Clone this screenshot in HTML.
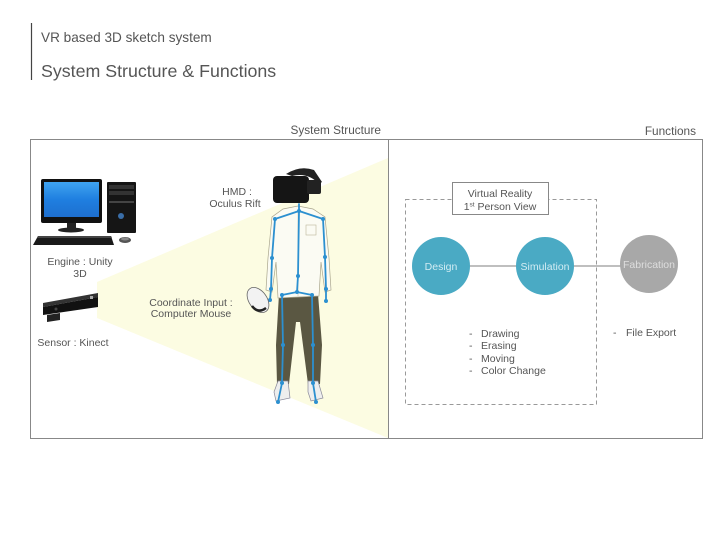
<!DOCTYPE html>
<html><head><meta charset="utf-8"><style>
html,body{margin:0;padding:0;background:#fff;}
svg{display:block;}
text{font-family:"Liberation Sans",sans-serif;fill:#555;}
</style></head><body>
<svg width="720" height="540" viewBox="0 0 720 540" xmlns="http://www.w3.org/2000/svg">
<defs>
<linearGradient id="scr" x1="0" y1="0" x2="0" y2="1">
<stop offset="0" stop-color="#3fa3f0"/><stop offset="0.5" stop-color="#1f7fe0"/><stop offset="1" stop-color="#1e6fcf"/>
</linearGradient>
</defs>
<!-- header -->
<line x1="31.5" y1="23" x2="31.5" y2="80" stroke="#444" stroke-width="1.2"/>
<text x="41" y="42" font-size="13.6" style="fill:#555">VR based 3D sketch system</text>
<text x="41" y="77" font-size="17.8" style="fill:#555">System Structure &amp; Functions</text>

<!-- section labels -->
<text x="381" y="134" font-size="11.8" text-anchor="end">System Structure</text>
<text x="696" y="135" font-size="11.8" text-anchor="end">Functions</text>

<!-- yellow light cone -->
<polygon points="97,282 388,158 388,438 97,318" fill="#fcfce2"/>

<!-- main box -->
<rect x="30.5" y="139.5" width="672" height="299" fill="none" stroke="#888" stroke-width="1"/>
<line x1="388.5" y1="139.5" x2="388.5" y2="438.5" stroke="#888" stroke-width="1"/>

<!-- computer -->
<rect x="41" y="179" width="61" height="44" rx="2" fill="#111"/>
<rect x="44" y="182" width="55" height="35" fill="url(#scr)"/>
<rect x="67" y="223" width="9" height="6" fill="#222"/>
<ellipse cx="71" cy="230" rx="13" ry="2.5" fill="#222"/>
<rect x="107" y="182" width="29" height="51" rx="1" fill="#151515"/>
<rect x="109" y="185" width="25" height="4" fill="#333"/>
<rect x="109" y="191" width="25" height="4" fill="#333"/>
<rect x="109" y="201" width="25" height="2" fill="#444"/>
<circle cx="121" cy="216" r="3" fill="#3a6ea8"/>
<polygon points="38,236 111,236 114,245 33,245" fill="#1a1a1a"/>
<polygon points="38,236 111,236 112,238 37,238" fill="#444"/>
<ellipse cx="125" cy="240" rx="6" ry="3" fill="#555"/>
<ellipse cx="125" cy="239" rx="4" ry="1.5" fill="#888"/>

<text x="80" y="265" font-size="10.5" text-anchor="middle">Engine : Unity</text>
<text x="80" y="277" font-size="10.5" text-anchor="middle">3D</text>

<!-- kinect -->
<polygon points="43,303 98,293 98,297 43,307" fill="#333"/>
<polygon points="43,307 98,297 98,307 43,315" fill="#111"/>
<polygon points="47,315 60,313 60,320 47,322" fill="#222"/>
<circle cx="56" cy="309" r="1.5" fill="#444"/>
<rect x="90" y="296" width="3" height="3" fill="#aaa"/>

<text x="73" y="346" font-size="10.5" text-anchor="middle">Sensor : Kinect</text>

<!-- person -->
<!-- pants -->
<path d="M279,294 L318,294 L322,345 L320,384 L308,384 L300,322 L296,322 L289,384 L277,384 L276,345 Z" fill="#5a5742"/>
<!-- shirt -->
<path d="M283,209 L298,206 L313,209 L325,217 L329,258 L331,290 L325,292 L321,262 L319,296 L278,298 L276,262 L272,292 L266,290 L268,258 L272,217 Z" fill="#fbfbf3" stroke="#a9a58c" stroke-width="0.7"/>
<line x1="298" y1="210" x2="298" y2="296" stroke="#c9c5aa" stroke-width="0.6"/>
<rect x="306" y="225" width="10" height="10" fill="none" stroke="#bbb79c" stroke-width="0.6"/>
<!-- shoes -->
<path d="M274,392 L278,381 L288,381 L290,398 L276,401 Z" fill="#eeeeee" stroke="#889" stroke-width="0.7"/>
<path d="M308,381 L318,381 L323,398 L311,401 L308,392 Z" fill="#eeeeee" stroke="#889" stroke-width="0.7"/>
<!-- HMD -->
<path d="M286,174 Q300,165 314,170 L322,182 L319,184 Q308,172 292,176 Z" fill="#222"/>
<rect x="273" y="176" width="36" height="27" rx="4" fill="#151515"/>
<rect x="307" y="180" width="14" height="14" rx="2" fill="#222"/>
<!-- skeleton -->
<g stroke="#2c90d0" stroke-width="1.8" fill="none" stroke-linecap="round">
<polyline points="299,204 299,211 298,276 297,292"/>
<polyline points="275,219 299,211 323,219"/>
<polyline points="275,219 272,258 271,289 270,300"/>
<polyline points="323,219 325,257 326,289 326,301"/>
<polyline points="282,295 297,292 312,295"/>
<polyline points="282,295 283,345 282,383 278,402"/>
<polyline points="312,295 313,345 313,383 316,402"/>
</g>
<g fill="#2c90d0">
<circle cx="299" cy="211" r="2"/><circle cx="275" cy="219" r="2"/><circle cx="323" cy="219" r="2"/>
<circle cx="272" cy="258" r="2"/><circle cx="325" cy="257" r="2"/>
<circle cx="271" cy="289" r="2"/><circle cx="326" cy="289" r="2"/>
<circle cx="270" cy="300" r="2"/><circle cx="326" cy="301" r="2"/>
<circle cx="298" cy="276" r="2"/><circle cx="297" cy="292" r="2"/>
<circle cx="282" cy="295" r="2"/><circle cx="312" cy="295" r="2"/>
<circle cx="283" cy="345" r="2"/><circle cx="313" cy="345" r="2"/>
<circle cx="282" cy="383" r="2"/><circle cx="313" cy="383" r="2"/>
<circle cx="278" cy="402" r="2"/><circle cx="316" cy="402" r="2"/>
</g>
<!-- mouse -->
<ellipse cx="258" cy="300" rx="9" ry="14" transform="rotate(-35 258 300)" fill="#f2f2f2" stroke="#666" stroke-width="0.8"/>
<path d="M252,306 Q258,314 266,308" stroke="#222" stroke-width="2.5" fill="none"/>

<text x="237" y="195" font-size="10.5" text-anchor="middle">HMD :</text>
<text x="235" y="207" font-size="10.5" text-anchor="middle">Oculus Rift</text>
<text x="191" y="306" font-size="10.5" text-anchor="middle">Coordinate Input :</text>
<text x="191" y="317" font-size="10.5" text-anchor="middle">Computer Mouse</text>

<!-- functions -->
<rect x="405.5" y="199.5" width="191" height="205" fill="none" stroke="#999" stroke-width="1" stroke-dasharray="4,3"/>
<line x1="441" y1="266" x2="649" y2="266" stroke="#999" stroke-width="1.2"/>
<rect x="452.5" y="182.5" width="96" height="32" fill="#fff" stroke="#888" stroke-width="1"/>
<text x="500" y="197" font-size="10.5" text-anchor="middle">Virtual Reality</text>
<text x="500" y="210" font-size="10.5" text-anchor="middle">1<tspan font-size="6.5" dy="-3.5">st</tspan><tspan dy="3.5"> Person View</tspan></text>

<circle cx="441" cy="266" r="29" fill="#4aaac4"/>
<circle cx="545" cy="266" r="29" fill="#4aaac4"/>
<circle cx="649" cy="264" r="29" fill="#a8a8a8"/>
<text x="441" y="270" font-size="10.5" text-anchor="middle" style="fill:#d2ecf3">Design</text>
<text x="545" y="270" font-size="10.5" text-anchor="middle" style="fill:#d2ecf3">Simulation</text>
<text x="649" y="268" font-size="10.5" text-anchor="middle" style="fill:#dedede">Fabrication</text>

<g font-size="10.5">
<text x="469" y="337">-</text><text x="481" y="337">Drawing</text>
<text x="469" y="349">-</text><text x="481" y="349">Erasing</text>
<text x="469" y="362">-</text><text x="481" y="362">Moving</text>
<text x="469" y="374">-</text><text x="481" y="374">Color Change</text>
<text x="613" y="336">-</text><text x="626" y="336">File Export</text>
</g>
</svg>
</body></html>
